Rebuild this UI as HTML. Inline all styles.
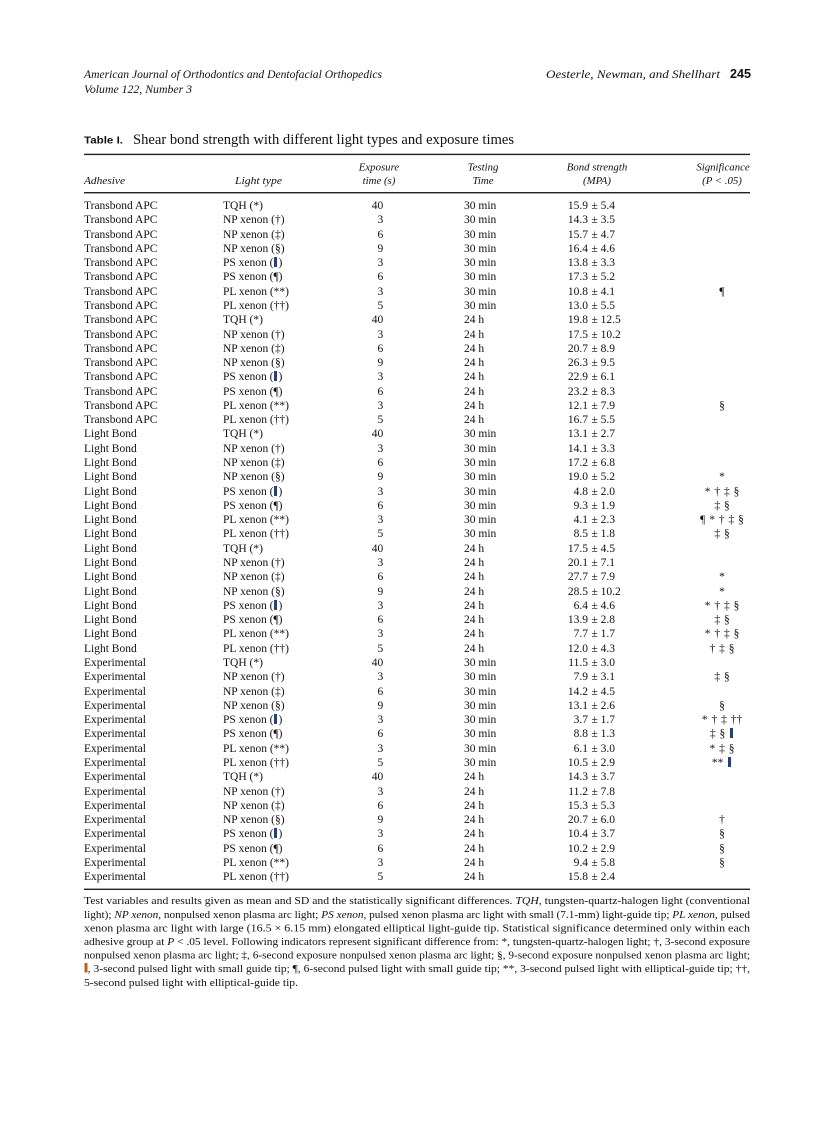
<!DOCTYPE html>
<html>
<head>
<meta charset="utf-8">
<style>
html,body{margin:0;padding:0;background:#fff;}
#page{position:relative;width:836px;height:1122px;overflow:hidden;background:#fff;color:#111;}
svg{position:absolute;left:0;top:0;}
.col{position:absolute;top:198.98px;font-family:"Liberation Serif","DejaVu Serif",serif;font-size:11.5px;line-height:14.28px;white-space:pre;color:#111;}
.dv{display:inline-block;width:3px;height:10px;background:#26407e;color:#26407e;overflow:hidden;vertical-align:-1px;font-size:7px;line-height:10px;margin:0 1px;}
</style>
</head>
<body>
<div id="page">
<svg width="836" height="1122" viewBox="0 0 836 1122" xmlns="http://www.w3.org/2000/svg" font-family="Liberation Serif, DejaVu Serif, serif" fill="#111">
  <!-- running header -->
  <text x="84" y="78" font-size="11.5" font-style="italic" textLength="298" lengthAdjust="spacingAndGlyphs">American Journal of Orthodontics and Dentofacial Orthopedics</text>
  <text x="84" y="93" font-size="11.5" font-style="italic" textLength="108" lengthAdjust="spacingAndGlyphs">Volume 122, Number 3</text>
  <text x="546" y="78" font-size="11.5" font-style="italic" textLength="174" lengthAdjust="spacingAndGlyphs">Oesterle, Newman, and Shellhart</text>
  <text x="730" y="78" font-size="12.5" font-weight="bold" font-family="Liberation Sans, DejaVu Sans, sans-serif" textLength="21" lengthAdjust="spacingAndGlyphs">245</text>

  <!-- title -->
  <text x="84" y="143.5" font-size="10.5" font-weight="bold" font-family="Liberation Sans, DejaVu Sans, sans-serif" textLength="39" lengthAdjust="spacingAndGlyphs">Table I.</text>
  <text x="133" y="144" font-size="14.5" textLength="381" lengthAdjust="spacingAndGlyphs">Shear bond strength with different light types and exposure times</text>

  <!-- rules -->
  <rect x="84" y="153.7" width="666" height="1.4" fill="#222"/>
  <rect x="84" y="192" width="666" height="1.4" fill="#222"/>
  <rect x="84" y="888.6" width="666" height="1.4" fill="#222"/>

  <!-- column headers -->
  <g font-size="10.8" font-style="italic">
    <text x="84" y="184" textLength="41" lengthAdjust="spacingAndGlyphs">Adhesive</text>
    <text x="235" y="184" textLength="47" lengthAdjust="spacingAndGlyphs">Light type</text>
    <text x="379" y="170.5" text-anchor="middle">Exposure</text>
    <text x="379" y="184" text-anchor="middle">time (s)</text>
    <text x="483" y="170.5" text-anchor="middle">Testing</text>
    <text x="483" y="184" text-anchor="middle">Time</text>
    <text x="597" y="170.5" text-anchor="middle">Bond strength</text>
    <text x="597" y="184" text-anchor="middle">(MPA)</text>
    <text x="723" y="170.5" text-anchor="middle">Significance</text>
    <text x="722" y="184" text-anchor="middle">(P &lt; .05)</text>
  </g>

  <!-- footnote -->
  <rect x="84.5" y="963" width="3" height="9.5" fill="#c0601a"/>
  <g font-size="11">
    <text x="84" y="904.2" textLength="666" lengthAdjust="spacingAndGlyphs">Test variables and results given as mean and SD and the statistically significant differences. <tspan font-style="italic">TQH</tspan>, tungsten-quartz-halogen light (conventional</text>
    <text x="84" y="917.8" textLength="666" lengthAdjust="spacingAndGlyphs">light); <tspan font-style="italic">NP xenon</tspan>, nonpulsed xenon plasma arc light; <tspan font-style="italic">PS xenon</tspan>, pulsed xenon plasma arc light with small (7.1-mm) light-guide tip; <tspan font-style="italic">PL xenon</tspan>, pulsed</text>
    <text x="84" y="931.4" textLength="666" lengthAdjust="spacingAndGlyphs">xenon plasma arc light with large (16.5 × 6.15 mm) elongated elliptical light-guide tip. Statistical significance determined only within each</text>
    <text x="84" y="945" textLength="666" lengthAdjust="spacingAndGlyphs">adhesive group at <tspan font-style="italic">P</tspan> &lt; .05 level. Following indicators represent significant difference from: *, tungsten-quartz-halogen light; †, 3-second exposure</text>
    <text x="84" y="958.6" textLength="666" lengthAdjust="spacingAndGlyphs">nonpulsed xenon plasma arc light; ‡, 6-second exposure nonpulsed xenon plasma arc light; §, 9-second exposure nonpulsed xenon plasma arc light;</text>
    <text x="84" y="972.2" textLength="666" lengthAdjust="spacingAndGlyphs"><tspan font-weight="bold" fill="#c0601a">‖</tspan>, 3-second pulsed light with small guide tip; ¶, 6-second pulsed light with small guide tip; **, 3-second pulsed light with elliptical-guide tip; ††,</text>
    <text x="84" y="985.8" textLength="214" lengthAdjust="spacingAndGlyphs">5-second pulsed light with elliptical-guide tip.</text>
  </g>
</svg>

<!-- Adhesive column -->
<div class="col" style="left:84px;">Transbond APC
Transbond APC
Transbond APC
Transbond APC
Transbond APC
Transbond APC
Transbond APC
Transbond APC
Transbond APC
Transbond APC
Transbond APC
Transbond APC
Transbond APC
Transbond APC
Transbond APC
Transbond APC
Light Bond
Light Bond
Light Bond
Light Bond
Light Bond
Light Bond
Light Bond
Light Bond
Light Bond
Light Bond
Light Bond
Light Bond
Light Bond
Light Bond
Light Bond
Light Bond
Experimental
Experimental
Experimental
Experimental
Experimental
Experimental
Experimental
Experimental
Experimental
Experimental
Experimental
Experimental
Experimental
Experimental
Experimental
Experimental</div>

<!-- Light type column -->
<div class="col" style="left:223px;">TQH (*)
NP xenon (†)
NP xenon (‡)
NP xenon (§)
PS xenon (<span class="dv">‖</span>)
PS xenon (¶)
PL xenon (**)
PL xenon (††)
TQH (*)
NP xenon (†)
NP xenon (‡)
NP xenon (§)
PS xenon (<span class="dv">‖</span>)
PS xenon (¶)
PL xenon (**)
PL xenon (††)
TQH (*)
NP xenon (†)
NP xenon (‡)
NP xenon (§)
PS xenon (<span class="dv">‖</span>)
PS xenon (¶)
PL xenon (**)
PL xenon (††)
TQH (*)
NP xenon (†)
NP xenon (‡)
NP xenon (§)
PS xenon (<span class="dv">‖</span>)
PS xenon (¶)
PL xenon (**)
PL xenon (††)
TQH (*)
NP xenon (†)
NP xenon (‡)
NP xenon (§)
PS xenon (<span class="dv">‖</span>)
PS xenon (¶)
PL xenon (**)
PL xenon (††)
TQH (*)
NP xenon (†)
NP xenon (‡)
NP xenon (§)
PS xenon (<span class="dv">‖</span>)
PS xenon (¶)
PL xenon (**)
PL xenon (††)</div>

<!-- Exposure column -->
<div class="col" style="left:333px;width:50.3px;text-align:right;">40
3
6
9
3
6
3
5
40
3
6
9
3
6
3
5
40
3
6
9
3
6
3
5
40
3
6
9
3
6
3
5
40
3
6
9
3
6
3
5
40
3
6
9
3
6
3
5</div>

<!-- Testing time column -->
<div class="col" style="left:464px;">30 min
30 min
30 min
30 min
30 min
30 min
30 min
30 min
24 h
24 h
24 h
24 h
24 h
24 h
24 h
24 h
30 min
30 min
30 min
30 min
30 min
30 min
30 min
30 min
24 h
24 h
24 h
24 h
24 h
24 h
24 h
24 h
30 min
30 min
30 min
30 min
30 min
30 min
30 min
30 min
24 h
24 h
24 h
24 h
24 h
24 h
24 h
24 h</div>

<!-- Bond strength mean -->
<div class="col" style="left:540px;width:48px;text-align:right;">15.9
14.3
15.7
16.4
13.8
17.3
10.8
13.0
19.8
17.5
20.7
26.3
22.9
23.2
12.1
16.7
13.1
14.1
17.2
19.0
4.8
9.3
4.1
8.5
17.5
20.1
27.7
28.5
6.4
13.9
7.7
12.0
11.5
7.9
14.2
13.1
3.7
8.8
6.1
10.5
14.3
11.2
15.3
20.7
10.4
10.2
9.4
15.8</div>

<!-- Bond strength SD -->
<div class="col" style="left:591.5px;">± 5.4
± 3.5
± 4.7
± 4.6
± 3.3
± 5.2
± 4.1
± 5.5
± 12.5
± 10.2
± 8.9
± 9.5
± 6.1
± 8.3
± 7.9
± 5.5
± 2.7
± 3.3
± 6.8
± 5.2
± 2.0
± 1.9
± 2.3
± 1.8
± 4.5
± 7.1
± 7.9
± 10.2
± 4.6
± 2.8
± 1.7
± 4.3
± 3.0
± 3.1
± 4.5
± 2.6
± 1.7
± 1.3
± 3.0
± 2.9
± 3.7
± 7.8
± 5.3
± 6.0
± 3.7
± 2.9
± 5.8
± 2.4</div>

<!-- Significance column -->
<div class="col" style="left:672px;width:100px;text-align:center;word-spacing:1px;">&#160;
&#160;
&#160;
&#160;
&#160;
&#160;
¶
&#160;
&#160;
&#160;
&#160;
&#160;
&#160;
&#160;
§
&#160;
&#160;
&#160;
&#160;
*
* † ‡ §
‡ §
¶ * † ‡ §
‡ §
&#160;
&#160;
*
*
* † ‡ §
‡ §
* † ‡ §
† ‡ §
&#160;
‡ §
&#160;
§
* † ‡ ††
‡ § <span class="dv">‖</span>
* ‡ §
** <span class="dv">‖</span>
&#160;
&#160;
&#160;
†
§
§
§
&#160;</div>
</div>
</body>
</html>
